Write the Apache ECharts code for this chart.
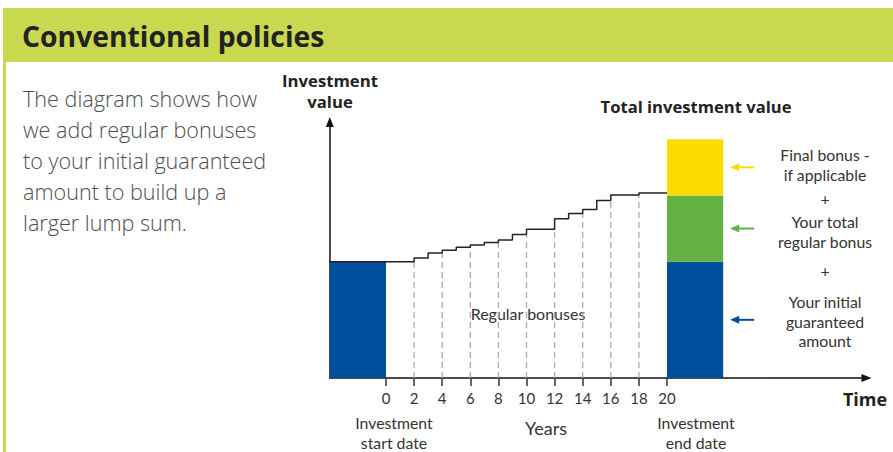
<!DOCTYPE html>
<html><head><meta charset="utf-8">
<script src="https://cdn.jsdelivr.net/npm/echarts@6/dist/echarts.min.js"></script>
<style>html,body{margin:0;padding:0;background:#fff}#c{width:893px;height:452px}</style>
</head><body><div id="c"></div>
<script>
// ---- data ----
const stepYears  = [-4, 2, 3, 4, 5, 6, 7, 8, 9, 10, 12, 13, 14, 15, 16, 18, 20];
const stepValues = [100, 103.2, 107.5, 109.7, 112.3, 114.4, 116.4, 118.7, 123.3, 127.8, 136.8, 141.4, 144.8, 152.6, 157.2, 158.9, 158.9];
const dashYears  = [2, 4, 6, 8, 10, 12, 14, 16, 18];
const tickYears  = [0, 2, 4, 6, 8, 10, 12, 14, 16, 18, 20];
const startSpan  = [-4, 0];
const endSpan    = [20, 24];
const initialAmount = 100;
const stackNames  = ['Your initial guaranteed amount', 'Your total regular bonus', 'Final bonus - if applicable'];
const stackValues = [100, 56.9, 48.3];

// ---- styles ----
const BLUE = '#004f9c', GREEN = '#64b245', YELLOW = '#ffdc00', HEAD = '#c8d84f';
const stackColors = [BLUE, GREEN, YELLOW];
const FONT = 'Lato';
const BFONT = '"Open Sans"';

function levelBefore(yr) {
  let v = stepValues[0];
  for (let i = 0; i < stepYears.length; i++) if (stepYears[i] < yr) v = stepValues[i];
  return v;
}

const stepData = stepYears.map((y, i) => [y, stepValues[i]]);
const dashData = dashYears.map(y => [y, levelBefore(y)]);
const startData = [[startSpan[0], startSpan[1], 0, initialAmount]];
let acc = 0;
const stackData = stackValues.map((v, i) => { const r = [endSpan[0], endSpan[1], acc, acc + v, i]; acc += v; return r; });

const chart = echarts.init(document.getElementById('c'), null, {renderer: 'svg'});

const txt = (text, x, y, o) => Object.assign({
  type: 'text', x, y, silent: true,
  style: Object.assign({text, fill: '#333', font: '15.8px ' + FONT, align: 'center', verticalAlign: 'middle'}, o || {})
});

chart.setOption({
  animation: false,
  backgroundColor: '#fff',
  grid: {left: 329.8, top: 122, width: 536.7, height: 256},
  xAxis: {
    type: 'value', min: -4, max: 34.2,
    splitLine: {show: false},
    axisLine: {lineStyle: {color: '#111', width: 1.5}, symbol: ['none', 'triangle'], symbolSize: [8, 10]},
    axisTick: {customValues: tickYears, length: 8, lineStyle: {color: '#333', width: 1.5}},
    axisLabel: {customValues: tickYears, color: '#333', fontSize: 15, fontFamily: FONT, margin: 12}
  },
  yAxis: {
    type: 'value', min: 0, max: 220,
    splitLine: {show: false},
    axisLine: {show: true, onZero: false, lineStyle: {color: '#111', width: 1.5}, symbol: ['none', 'triangle'], symbolSize: [8, 10]},
    axisTick: {show: false},
    axisLabel: {show: false}
  },
  series: [
    {
      type: 'custom', name: 'Initial', data: startData, encode: {x: [0, 1], y: [2, 3]}, z: 1,
      renderItem: (p, api) => {
        const a = api.coord([api.value(0), api.value(3)]);
        const b = api.coord([api.value(1), api.value(2)]);
        return {type: 'rect', shape: {x: a[0], y: a[1], width: b[0] - a[0], height: b[1] - a[1]}, style: {fill: BLUE}};
      }
    },
    {
      type: 'custom', name: 'Dashes', data: dashData, encode: {x: 0, y: 1}, z: 1,
      renderItem: (p, api) => {
        const a = api.coord([api.value(0), 0]);
        const b = api.coord([api.value(0), api.value(1)]);
        return {type: 'line', shape: {x1: a[0], y1: a[1], x2: b[0], y2: b[1]},
          style: {stroke: '#aaa', lineWidth: 1.3, lineDash: [6, 4]}};
      }
    },
    {
      type: 'line', name: 'Investment value', data: stepData, step: 'end', showSymbol: false, z: 3,
      lineStyle: {color: '#222', width: 1.5}
    },
    {
      type: 'custom', name: 'Total investment value', data: stackData, encode: {x: [0, 1], y: [2, 3]}, z: 2,
      renderItem: (p, api) => {
        const a = api.coord([api.value(0), api.value(3)]);
        const b = api.coord([api.value(1), api.value(2)]);
        const c = stackColors[api.value(4)];
        const my = (a[1] + b[1]) / 2;
        const ax0 = b[0] + 9, ax1 = b[0] + 31;
        return {type: 'group', children: [
          {type: 'rect', shape: {x: a[0], y: a[1], width: b[0] - a[0], height: b[1] - a[1]}, style: {fill: c}},
          {type: 'line', shape: {x1: ax0 + 4, y1: my, x2: ax1, y2: my}, style: {stroke: c, lineWidth: 2}},
          {type: 'polygon', shape: {points: [[ax0 - 2, my], [ax0 + 7, my - 4], [ax0 + 7, my + 4]]}, style: {fill: c}}
        ]};
      }
    }
  ],
  graphic: [
    {type: 'rect', x: 3, y: 8, shape: {width: 890, height: 54}, style: {fill: HEAD}, silent: true},
    {type: 'rect', x: 3, y: 62, shape: {width: 3, height: 390}, style: {fill: HEAD}, silent: true},
    txt('Conventional policies', 22, 36, {font: 'bold 28.3px ' + BFONT, fill: '#222', align: 'left'}),
    txt('The diagram shows how\nwe add regular bonuses\nto your initial guaranteed\namount to build up a\nlarger lump sum.', 23, 83,
        {font: '300 21.6px ' + BFONT, fill: '#4d4d4d', align: 'left', verticalAlign: 'top', lineHeight: 31}),
    txt('Investment\nvalue', 330, 91, {font: 'bold 16.7px ' + BFONT, fill: '#222', lineHeight: 21}),
    txt('Total investment value', 696, 106, {font: 'bold 16.6px ' + BFONT, fill: '#222'}),
    txt('Time', 865, 399, {font: 'bold 18px ' + BFONT, fill: '#222'}),
    txt('Regular bonuses', 528, 313, {font: '16px ' + FONT}),
    txt('Investment\nstart date', 394, 432, {lineHeight: 20}),
    txt('Years', 546, 428, {font: '18px ' + FONT}),
    txt('Investment\nend date', 696, 432, {lineHeight: 20}),
    txt('Final bonus -\nif applicable', 825, 164, {lineHeight: 20}),
    txt('+', 825, 198),
    txt('Your total\nregular bonus', 825, 231, {lineHeight: 20}),
    txt('+', 825, 270),
    txt('Your initial\nguaranteed\namount', 825, 321, {lineHeight: 19.5})
  ]
});
</script></body></html>
